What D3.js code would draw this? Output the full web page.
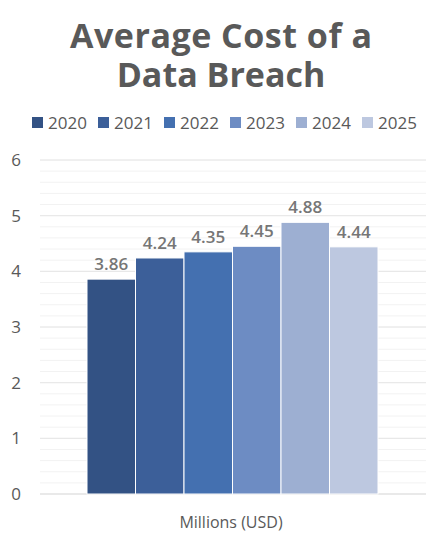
<!DOCTYPE html><html><head><meta charset="utf-8">
<script src="https://cdn.jsdelivr.net/npm/d3@7/dist/d3.min.js"></script>
<style>body{margin:0;background:#fff}</style></head><body><svg id="c" width="445" height="545"></svg>
<script>
const years=["2020","2021","2022","2023","2024","2025"];
const values=[3.86,4.24,4.35,4.45,4.88,4.44];
const colors=["#335284","#3c5f99","#4470b0","#6d8cc3","#9dafd2","#bdc8e0"];
const yTicks=[0,1,2,3,4,5,6];
const category="Millions (USD)";
const svg=d3.select("#c");
const font="'Open Sans', sans-serif";
svg.append("text").attr("x",221).attr("y",48).attr("text-anchor","middle").attr("font-family",font).attr("font-weight","bold").attr("font-size",34).attr("fill","#595959").attr("textLength",302).text("Average Cost of a");
svg.append("text").attr("x",221).attr("y",87).attr("text-anchor","middle").attr("font-family",font).attr("font-weight","bold").attr("font-size",34).attr("fill","#595959").text("Data Breach");
const y=d3.scaleLinear().domain([0,6]).range([494,160]);
const x=d3.scaleBand().domain(years).range([87,378]);
const minor=d3.range(0,6.001,0.2);
svg.selectAll(".mn").data(minor).join("line").attr("x1",40).attr("x2",426).attr("y1",d=>y(d)).attr("y2",d=>y(d)).attr("stroke","#f2f2f2");
svg.selectAll(".mj").data(yTicks).join("line").attr("x1",40).attr("x2",426).attr("y1",d=>y(d)).attr("y2",d=>y(d)).attr("stroke",d=>d===0?"#d9d9d9":"#e6e6e6");
svg.selectAll(".yl").data(yTicks).join("text").attr("x",16).attr("y",d=>y(d)+6).attr("text-anchor","middle").attr("font-family",font).attr("font-size",17).attr("fill","#595959").text(d=>d);
svg.selectAll(".b").data(values).join("rect").attr("x",(d,i)=>x(years[i])).attr("width",x.bandwidth()).attr("y",d=>y(d)).attr("height",d=>y(0)-y(d)).attr("fill",(d,i)=>colors[i]).attr("stroke","#fff").attr("stroke-width",1);
svg.selectAll(".v").data(values).join("text").attr("x",(d,i)=>x(years[i])+x.bandwidth()/2).attr("y",d=>y(d)-9).attr("text-anchor","middle").attr("font-family",font).attr("font-weight",600).attr("font-size",17).attr("fill","#767676").text(d=>d.toFixed(2));
svg.append("text").attr("x",231).attr("y",528).attr("text-anchor","middle").attr("font-family",font).attr("font-size",16).attr("fill","#595959").text(category);
const lg=svg.append("g");
const lx=[32,98,164,230,296,362];
years.forEach((yr,i)=>{const g=lg.append("g").attr("transform",`translate(${lx[i]},0)`);
g.append("rect").attr("x",0).attr("y",117).attr("width",11).attr("height",11).attr("fill",colors[i]);
g.append("text").attr("x",16).attr("y",129).attr("font-family",font).attr("font-size",17).attr("fill","#595959").text(yr);});
</script></body></html>
